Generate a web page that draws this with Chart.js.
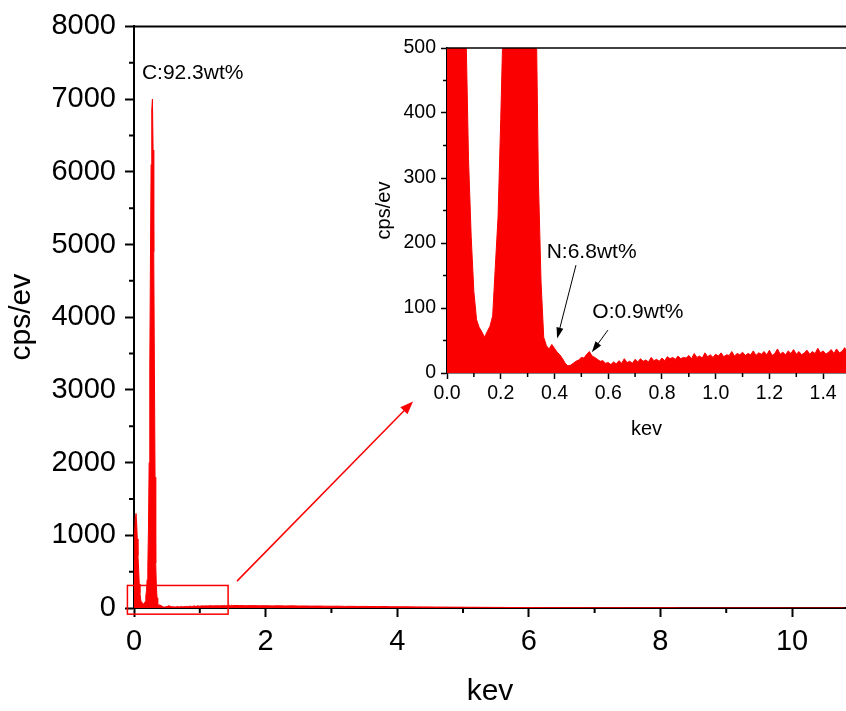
<!DOCTYPE html>
<html>
<head>
<meta charset="utf-8">
<script src="https://cdn.jsdelivr.net/npm/chart.js@4.4.1/dist/chart.umd.min.js"></script>
<style>
  body { margin: 0; background: #fff; }
  #wrap { position: relative; width: 846px; height: 711px; }
  canvas { position: absolute; }
  #mainChart { left: 0; top: 0; }
  #insetChart { left: 370px; top: 30px; }
</style>
</head>
<body>
<div id="wrap">
  <canvas id="mainChart" width="846" height="711"></canvas>
  <canvas id="insetChart" width="476" height="420"></canvas>
</div>
<script>
// spectrum 0.00 - 1.50 keV, one value every 0.01 keV (cps/eV)
const fineStart = 0;
const fineStep = 0.01;
const fineCounts = [
  650, 1050, 1260, 1300, 1180, 950, 720, 540, 330, 210,
  125, 82, 70, 63, 55, 64, 72, 88, 165, 240,
  390, 560, 1100, 2000, 3300, 4800, 6100, 6850, 7000, 6300,
  4900, 3300, 1800, 620, 300, 140, 55, 42, 37, 44,
  38, 32, 28, 22, 15, 11, 12, 15, 18, 20,
  24, 23, 29, 33, 26, 24, 21, 18, 19, 15,
  16, 13, 17, 14, 19, 15, 22, 16, 18, 15,
  21, 17, 22, 18, 20, 17, 24, 19, 21, 18,
  23, 19, 25, 22, 24, 21, 26, 22, 24, 23,
  27, 22, 30, 24, 26, 23, 31, 25, 28, 24,
  29, 26, 31, 25, 28, 27, 33, 26, 30, 28,
  32, 27, 30, 28, 34, 27, 31, 29, 33, 28,
  35, 27, 30, 37, 29, 32, 28, 34, 30, 36,
  29, 33, 28, 31, 35, 29, 33, 30, 38, 31,
  34, 29, 32, 36, 30, 37, 31, 33, 39, 32,
  35
];

// spectrum 1.6 - 10.8 keV, one value every 0.1 keV
const coarseStart = 1.6;
const coarseStep = 0.1;
const coarseCounts = [
  34, 31, 33, 30, 32, 29, 31, 28, 30, 27,
  28, 26, 27, 25, 24, 25, 22, 23, 21, 22,
  20, 19, 20, 18, 17, 17, 16, 15, 15, 14,
  13, 13, 12, 11, 11, 10, 10, 9, 9, 8,
  8, 7, 7, 6, 6, 6, 5, 5, 5, 4,
  4, 4, 4, 3, 3, 3, 3, 3, 3, 2,
  2, 2, 2, 2, 2, 2, 2, 1, 1, 1,
  1, 1, 1, 1, 1, 1, 1, 1, 1, 1,
  1, 1, 1, 0, 0, 0, 0, 0, 0, 0,
  0, 0, 0
];

// tick labels
const mainXTicks = [0, 2, 4, 6, 8, 10];
const mainYTicks = [0, 1000, 2000, 3000, 4000, 5000, 6000, 7000, 8000];
const insetXTicks = [0.0, 0.2, 0.4, 0.6, 0.8, 1.0, 1.2, 1.4];
const insetYTicks = [0, 100, 200, 300, 400, 500];

const red = 'rgb(250, 0, 0)';
Chart.defaults.font.family = '"Liberation Sans", Arial, sans-serif';
Chart.defaults.color = '#000';

function toPoints(start, step, counts) {
  return counts.map((c, i) => ({ x: +(start + i * step).toFixed(3), y: c }));
}
const finePoints = toPoints(fineStart, fineStep, fineCounts);
const coarsePoints = toPoints(coarseStart, coarseStep, coarseCounts);
const allPoints = finePoints.concat(coarsePoints);

// arrow with filled head, in pixels
function arrow(ctx, x1, y1, x2, y2, color, width, headLen, headW) {
  const a = Math.atan2(y2 - y1, x2 - x1);
  ctx.strokeStyle = color;
  ctx.fillStyle = color;
  ctx.lineWidth = width;
  ctx.beginPath();
  ctx.moveTo(x1, y1);
  ctx.lineTo(x2 - Math.cos(a) * headLen * 0.8, y2 - Math.sin(a) * headLen * 0.8);
  ctx.stroke();
  ctx.beginPath();
  ctx.moveTo(x2, y2);
  ctx.lineTo(x2 - Math.cos(a) * headLen - Math.sin(a) * headW, y2 - Math.sin(a) * headLen + Math.cos(a) * headW);
  ctx.lineTo(x2 - Math.cos(a) * headLen + Math.sin(a) * headW, y2 - Math.sin(a) * headLen - Math.cos(a) * headW);
  ctx.closePath();
  ctx.fill();
}

// minor ticks between the labelled ones + top frame line
function frameAndMinor(chart, opts) {
  const { ctx, chartArea, scales: { x, y } } = chart;
  ctx.save();
  ctx.strokeStyle = '#000';
  ctx.lineWidth = opts.lw;
  ctx.beginPath();
  ctx.moveTo(chartArea.left, chartArea.top);
  ctx.lineTo(chartArea.right, chartArea.top);
  ctx.stroke();
  ctx.beginPath();
  for (let v = opts.xMinor; v < x.max; v += opts.xMajor) {
    const px = x.getPixelForValue(v);
    ctx.moveTo(px, chartArea.bottom);
    ctx.lineTo(px, chartArea.bottom + opts.len);
  }
  for (let v = opts.yMinor; v < y.max; v += opts.yMajor) {
    const py = y.getPixelForValue(v);
    ctx.moveTo(chartArea.left, py);
    ctx.lineTo(chartArea.left - opts.len, py);
  }
  ctx.stroke();
  ctx.restore();
}

function axisOpts(ticksList, fontSize, tickLen, lw, pad, fmt) {
  return {
    type: 'linear',
    border: { color: '#000', width: lw },
    grid: { drawOnChartArea: false, tickLength: tickLen, tickWidth: lw, tickColor: '#000' },
    afterBuildTicks: s => { s.ticks = ticksList.map(v => ({ value: v })); },
    ticks: { font: { size: fontSize }, padding: pad, color: '#000', callback: fmt || (v => v) }
  };
}

const mainX = axisOpts(mainXTicks, 29, 9, 2, 8);
Object.assign(mainX, {
  min: 0, max: 10.82,
  title: { display: true, text: 'kev', font: { size: 30 }, padding: { top: 0, bottom: 1 } },
  afterFit: s => { s.height = 103; }
});
const mainY = axisOpts(mainYTicks, 29, 9, 2, 9);
Object.assign(mainY, {
  min: 0, max: 8000,
  title: { display: true, text: 'cps/ev', font: { size: 30 }, padding: { top: 4, bottom: 0 } },
  afterFit: s => { s.width = 134; }
});

new Chart(document.getElementById('mainChart'), {
  type: 'line',
  data: {
    datasets: [{
      data: allPoints,
      borderColor: red,
      backgroundColor: red,
      borderWidth: 1,
      fill: 'origin',
      pointRadius: 0,
      tension: 0
    }]
  },
  options: {
    responsive: false,
    animation: false,
    layout: { padding: { top: 25, left: 0, right: 0, bottom: 0 } },
    plugins: { legend: { display: false }, tooltip: { enabled: false } },
    scales: { x: mainX, y: mainY }
  },
  plugins: [{
    id: 'mainExtras',
    afterDraw(chart) {
      frameAndMinor(chart, { lw: 2, len: 5, xMinor: 1, xMajor: 2, yMinor: 500, yMajor: 1000 });
      const { ctx, scales: { x, y } } = chart;
      ctx.save();
      // peak label
      ctx.font = '21px "Liberation Sans", Arial, sans-serif';
      ctx.fillStyle = '#000';
      ctx.textBaseline = 'middle';
      ctx.fillText('C:92.3wt%', x.getPixelForValue(0.12), y.getPixelForValue(7350));
      // zoom box
      ctx.strokeStyle = red;
      ctx.lineWidth = 1.5;
      const bx1 = x.getPixelForValue(-0.1), bx2 = x.getPixelForValue(1.43);
      const by1 = y.getPixelForValue(310), by2 = y.getPixelForValue(-85);
      ctx.strokeRect(bx1, by1, bx2 - bx1, by2 - by1);
      // arrow to inset
      arrow(ctx, x.getPixelForValue(1.565), y.getPixelForValue(370),
        x.getPixelForValue(4.24), y.getPixelForValue(2840), red, 1.5, 13, 5);
      ctx.restore();
    }
  }]
});

const insetX = axisOpts(insetXTicks, 19.5, 6, 1.5, 3, v => v.toFixed(1));
Object.assign(insetX, {
  min: 0, max: 1.485,
  title: { display: true, text: 'kev', font: { size: 20 }, padding: { top: 0, bottom: 9 } },
  afterFit: s => { s.height = 77; }
});
const insetY = axisOpts(insetYTicks, 19.5, 6, 1.5, 5);
Object.assign(insetY, {
  min: 0, max: 500,
  title: { display: true, text: 'cps/ev', font: { size: 20 }, padding: { top: 2, bottom: 0 } },
  afterFit: s => { s.width = 77; }
});

new Chart(document.getElementById('insetChart'), {
  type: 'line',
  data: {
    datasets: [{
      data: finePoints,
      borderColor: red,
      backgroundColor: red,
      borderWidth: 1,
      fill: 'origin',
      pointRadius: 0,
      tension: 0
    }]
  },
  options: {
    responsive: false,
    animation: false,
    layout: { padding: { top: 18, left: 0, right: 0, bottom: 0 } },
    plugins: { legend: { display: false }, tooltip: { enabled: false } },
    scales: { x: insetX, y: insetY }
  },
  plugins: [{
    id: 'insetExtras',
    afterDraw(chart) {
      frameAndMinor(chart, { lw: 1.5, len: 4, xMinor: 0.1, xMajor: 0.2, yMinor: 50, yMajor: 100 });
      const { ctx, scales: { x, y } } = chart;
      ctx.save();
      ctx.font = '21px "Liberation Sans", Arial, sans-serif';
      ctx.fillStyle = '#000';
      ctx.textBaseline = 'middle';
      ctx.fillText('N:6.8wt%', x.getPixelForValue(0.371), y.getPixelForValue(186));
      ctx.fillText('O:0.9wt%', x.getPixelForValue(0.541), y.getPixelForValue(93));
      arrow(ctx, x.getPixelForValue(0.48), y.getPixelForValue(166),
        x.getPixelForValue(0.41), y.getPixelForValue(53), '#000', 1, 11, 3.5);
      arrow(ctx, x.getPixelForValue(0.599), y.getPixelForValue(66),
        x.getPixelForValue(0.539), y.getPixelForValue(32), '#000', 1, 11, 3.5);
      ctx.restore();
    }
  }]
});
</script>
</body>
</html>
